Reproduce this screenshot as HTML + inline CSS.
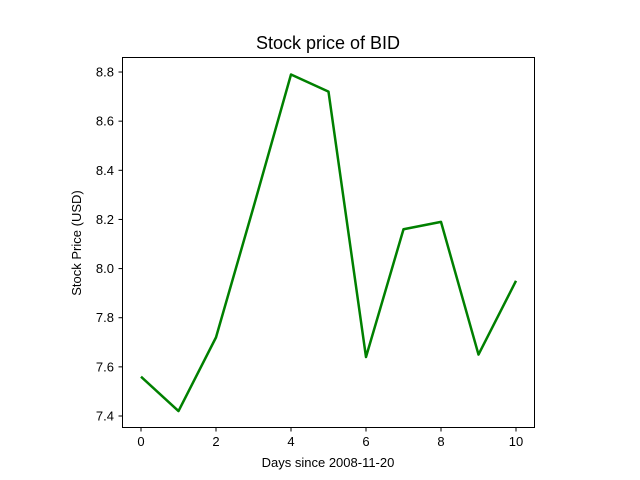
<!DOCTYPE html>
<html><head><meta charset="utf-8"><style>body{margin:0;background:#fff}svg{display:block;font-family:"Liberation Sans","DejaVu Sans",sans-serif}</style></head>
<body>
<svg id="c" width="640" height="480">
<rect width="640" height="480" fill="#fff"/>
<text x="328" y="49" text-anchor="middle" font-size="18">Stock price of BID</text>
<text x="328" y="467" text-anchor="middle" font-size="13">Days since 2008-11-20</text>
<text transform="translate(81,243) rotate(-90)" text-anchor="middle" font-size="13">Stock Price (USD)</text>
<g id="ticks"></g>
<polyline id="line" fill="none" stroke="#008000" stroke-width="2.5" stroke-linejoin="round"/>
<rect x="122.5" y="57.5" width="412" height="370" fill="none" stroke="#000" stroke-width="1"/>
</svg>
<script>
const days=[0,1,2,3,4,5,6,7,8,9,10];
const prices=[7.56,7.42,7.72,8.25,8.79,8.72,7.64,8.16,8.19,7.65,7.95];
const xTicks=[0,2,4,6,8,10];
const yTicks=[7.4,7.6,7.8,8.0,8.2,8.4,8.6,8.8];
const sx=v=>141+v*37.5;
const sy=v=>416-(v-7.4)/0.2*49.14;
const ns="http://www.w3.org/2000/svg";
const line=document.getElementById('line');
line.setAttribute('points',days.map((d,i)=>sx(d)+','+sy(prices[i])).join(' '));
const g=document.getElementById('ticks');
function mk(t,a){const e=document.createElementNS(ns,t);for(const k in a)e.setAttribute(k,a[k]);g.appendChild(e);return e;}
xTicks.forEach(v=>{
 const l=mk('line',{x1:sx(v),x2:sx(v),y1:427.5,y2:431.5,stroke:'#000'});
 
 
 const t=mk('text',{x:sx(v),y:446,'text-anchor':'middle','font-size':13});
 t.textContent=v;
 
 
});
yTicks.forEach(v=>{
 const l=mk('line',{x1:118.5,x2:122.5,y1:sy(v),y2:sy(v),stroke:'#000'});
 
 
 const t=mk('text',{x:114,y:sy(v)+4.5,'text-anchor':'end','font-size':13});
 t.textContent=v.toFixed(1);
 
 
});
</script>
</body></html>
